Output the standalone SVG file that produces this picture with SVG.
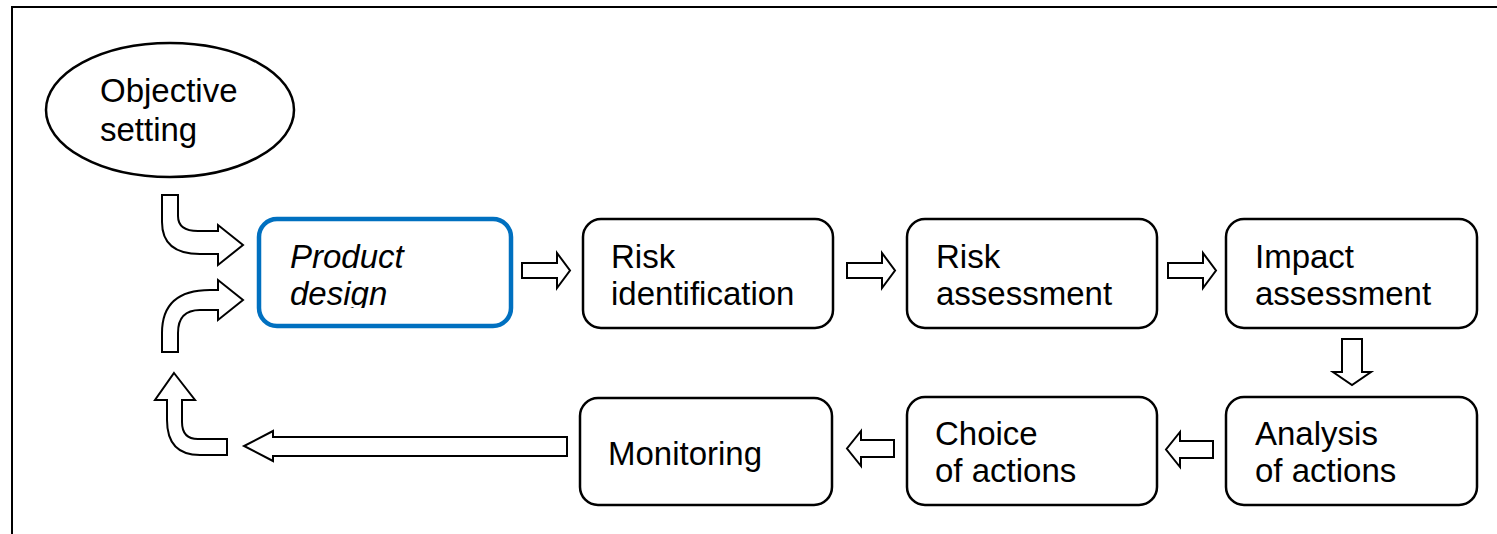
<svg xmlns="http://www.w3.org/2000/svg" width="1497" height="534" viewBox="0 0 1497 534">
<style>
.box{fill:#fff;stroke:#000;stroke-width:2.5}
.sel{fill:#fff;stroke:#0070c0;stroke-width:4.5}
.arr{fill:#fff;stroke:#000;stroke-width:2;stroke-linejoin:miter}
.t{font-family:"Liberation Sans",Arial,sans-serif;font-size:33px;fill:#000}
.i{font-style:italic}
</style>
<defs>
<clipPath id="pdclip"><rect x="258" y="218" width="254" height="90"/></clipPath>
</defs>
<rect width="1497" height="534" fill="#fff"/>
<path d="M12,534 V7 H1497" fill="none" stroke="#000" stroke-width="2"/>

<g id="objective">
<ellipse cx="170" cy="110" rx="124" ry="67" class="box"/>
<text class="t" x="100" y="102">Objective</text>
<text class="t" x="100" y="141">setting</text>
</g>

<g id="product-design">
<rect x="259" y="219" width="252" height="107" rx="18" class="sel"/>
<g clip-path="url(#pdclip)">
<text class="t i" x="290" y="268">Product</text>
<text class="t i" x="290" y="305">design</text>
</g>
</g>

<g id="risk-identification">
<rect x="583" y="219" width="250" height="109" rx="18" class="box"/>
<text class="t" x="611" y="268">Risk</text>
<text class="t" x="611" y="305">identification</text>
</g>

<g id="risk-assessment">
<rect x="907" y="219" width="250" height="109" rx="18" class="box"/>
<text class="t" x="936" y="268">Risk</text>
<text class="t" x="936" y="305">assessment</text>
</g>

<g id="impact-assessment">
<rect x="1226" y="219" width="251" height="109" rx="18" class="box"/>
<text class="t" x="1255" y="268">Impact</text>
<text class="t" x="1255" y="305">assessment</text>
</g>

<g id="analysis-of-actions">
<rect x="1226" y="397" width="251" height="108" rx="18" class="box"/>
<text class="t" x="1255" y="445">Analysis</text>
<text class="t" x="1255" y="482">of actions</text>
</g>

<g id="choice-of-actions">
<rect x="907" y="397" width="250" height="108" rx="18" class="box"/>
<text class="t" x="935" y="445">Choice</text>
<text class="t" x="935" y="482">of actions</text>
</g>

<g id="monitoring">
<rect x="580" y="398" width="252" height="107" rx="18" class="box"/>
<text class="t" x="608" y="465">Monitoring</text>
</g>

<g id="connectors">
<path class="arr" d="M162,195 H178 V216 Q178,231 198,231 H218 V225 L243,245 L218,265 V254 H200 Q162,254 162,222 Z"/>
<path class="arr" d="M162,352 V333 Q162,290 210,290 H218 V280 L243,300 L218,320 V310 H200 Q178,310 178,333 V352 Z"/>
<path class="arr" d="M174,373 L195,400 H182 V422 Q182,439 198,439 H227 V455 H200 Q167,455 167,420 V400 H155 Z"/>
<path class="arr" d="M567,437 H273 V431 L244,446 L273,461 V456 H567 Z"/>
<path class="arr" d="M522,263 H557 V253 L570,270.5 L557,288 V278 H522 Z"/>
<path class="arr" d="M847,263 H882 V253 L895,270.5 L882,288 V278 H847 Z"/>
<path class="arr" d="M1168,263 H1203 V253 L1216,270.5 L1203,288 V278 H1168 Z"/>
<path class="arr" d="M1342,339 H1362 V372 H1371 L1352,385 L1333,372 H1342 Z"/>
<path class="arr" d="M1213,441 H1180 V432 L1166,449.5 L1180,467 V458 H1213 Z"/>
<path class="arr" d="M894,440 H861 V431 L847,448.5 L861,466 V457 H894 Z"/>
</g>
</svg>
